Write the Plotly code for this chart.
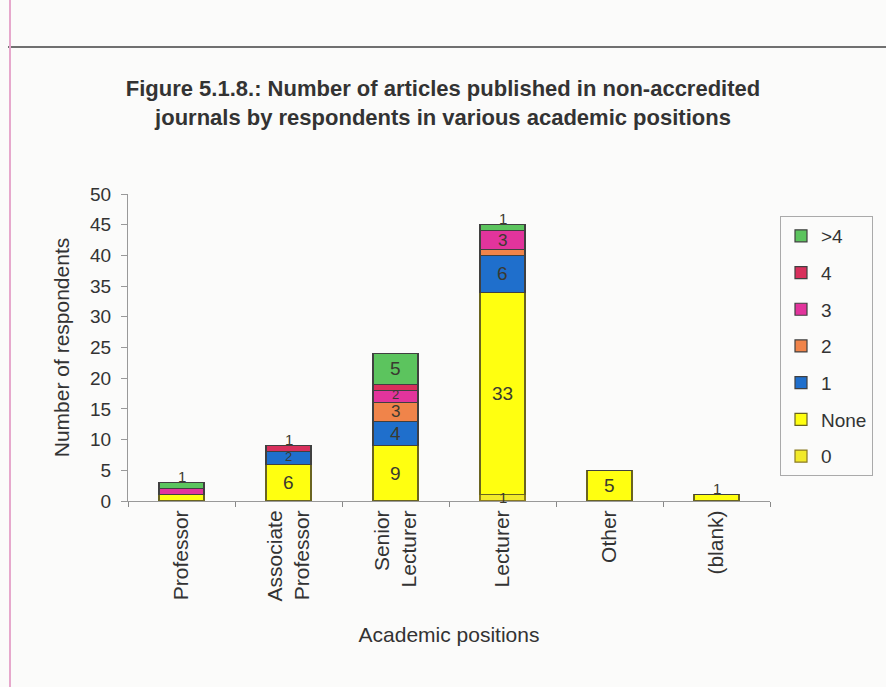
import plotly.graph_objects as go

# Academic positions (x categories)
categories = ["Professor", "Associate<br>Professor", "Senior<br>Lecturer",
              "Lecturer", "Other", "(blank)"]

# Number of respondents per count of non-accredited articles
s_zero = [0, 0, 0, 1, 0, 0]
s_none = [1, 6, 9, 33, 5, 1]
s_one = [0, 2, 4, 6, 0, 0]
s_two = [0, 0, 3, 1, 0, 0]
s_three = [1, 0, 2, 3, 0, 0]
s_four = [0, 1, 1, 0, 0, 0]
s_more = [1, 0, 5, 1, 0, 0]

series = [
    ("0", s_zero, "#f2ea2a", "#8a7a20"),
    ("None", s_none, "#ffff10", "#6a6420"),
    ("1", s_one, "#1f6fcc", "#404040"),
    ("2", s_two, "#f0844a", "#404040"),
    ("3", s_three, "#e2349c", "#404040"),
    ("4", s_four, "#d8305c", "#404040"),
    (">4", s_more, "#5cc45e", "#404040"),
]

FONT = "Liberation Sans, Arial, sans-serif"

# index of the top-most non-empty segment of each stack
top_idx = []
for c in range(len(categories)):
    top = 0
    for i, (_, vals, _, _) in enumerate(series):
        if vals[c]:
            top = i
    top_idx.append(top)

fig = go.Figure()
n = len(series)
annotations = []
base = [0] * len(categories)
for i, (name, vals, color, edge) in enumerate(series):
    fig.add_trace(go.Bar(
        x=categories, y=vals, name=name,
        marker=dict(color=color, line=dict(color=edge, width=1.2)),
        legendgroup=name, legendrank=n - i,
        hoverinfo="skip",
    ))
    # segment value labels; thin inner 1-unit segments stay unlabelled,
    # a thin top segment gets its label sitting on the bar's top edge
    for c, v in enumerate(vals):
        lab = dict(xref="x", yref="y", x=categories[c], text=str(v),
                   showarrow=False)
        if v >= 2:
            size = 19 if v >= 4 else (17 if v == 3 else 13)
            lab.update(y=base[c] + v / 2, yshift=2 if v == 2 else 0,
                       font=dict(family=FONT, size=size, color="#3a3a30"))
            annotations.append(lab)
        elif v == 1 and top_idx[c] == i:
            lab.update(y=base[c] + v, yanchor="bottom", yshift=-4,
                       font=dict(family=FONT, size=15, color="#3a3a30"))
            annotations.append(lab)
        elif v == 1 and name == "0":
            lab.update(y=base[c] + v / 2,
                       font=dict(family=FONT, size=15, color="#3a3a30"))
            annotations.append(lab)
        base[c] += v

# pixel -> paper helpers (plot area spans x 128..770, y 194..501)
def px(x):
    return (x - 128) / 642.0

def py(y):
    return (501 - y) / 307.0

shapes = [
    # outer frame of the chart sheet
    dict(type="line", xref="paper", yref="paper", x0=px(8), x1=px(886),
         y0=py(47), y1=py(47), line=dict(color="#707070", width=2)),
    dict(type="line", xref="paper", yref="paper", x0=px(10), x1=px(10),
         y0=py(0), y1=py(687), line=dict(color="#e6a8cc", width=2)),
]

fig.update_layout(
    width=886, height=687,
    margin=dict(l=128, r=116, t=194, b=186),
    paper_bgcolor="#fbfbfa", plot_bgcolor="#fbfbfa",
    barmode="stack", bargap=0.58,
    font=dict(family=FONT, size=19, color="#333333"),
    title=dict(
        text="<b>Figure 5.1.8.: Number of articles published in non-accredited<br>"
             "journals by respondents in various academic positions</b>",
        x=0.5, xref="container", xanchor="center",
        y=1 - 96 / 687, yanchor="top",
        font=dict(family="Liberation Sans Narrow, Arial Narrow, Liberation Sans, Arial",
                  size=22, color="#333333"),
    ),
    xaxis=dict(
        title=dict(text="Academic positions", font=dict(size=21), standoff=26),
        tickangle=-90, ticks="outside", tickson="boundaries", ticklen=5,
        tickcolor="#888888", showline=True, linecolor="#999999",
        showgrid=False, tickfont=dict(size=21),
    ),
    yaxis=dict(
        title=dict(text="Number of respondents", font=dict(size=21), standoff=14),
        range=[0, 50], dtick=5, ticks="outside", ticklen=6,
        ticklabelstandoff=6,
        tickcolor="#999999", showline=True, linecolor="#999999",
        showgrid=False, zeroline=False, tickfont=dict(size=19),
    ),
    legend=dict(
        traceorder="grouped", tracegroupgap=9,
        x=px(780), xanchor="left", y=py(216), yanchor="top",
        bordercolor="#aaaaaa", borderwidth=1, bgcolor="#fbfbfa",
        font=dict(size=19, color="#333333"),
        itemwidth=30,
    ),
    annotations=annotations,
    shapes=shapes,
)

fig.write_html("out.html")
